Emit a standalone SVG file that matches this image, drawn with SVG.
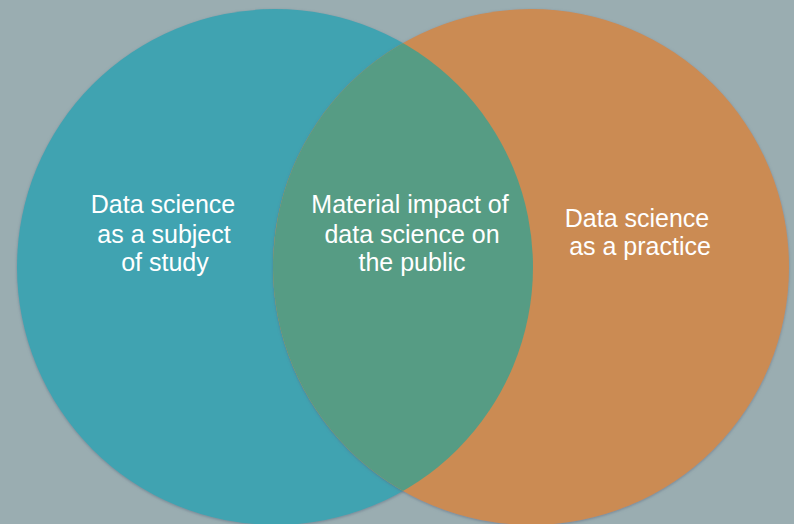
<svg xmlns="http://www.w3.org/2000/svg" width="794" height="524" viewBox="0 0 794 524">
<style>
.lbl{font-family:"Liberation Sans",Arial,sans-serif;font-size:25px;fill:#ffffff;text-anchor:middle}
</style>
<defs>
<filter id="sh" x="-10%" y="-10%" width="120%" height="120%">
<feGaussianBlur in="SourceAlpha" stdDeviation="1.5"/>
<feOffset dx="0" dy="1" result="b"/>
<feFlood flood-color="#5a6a80" flood-opacity="0.6"/>
<feComposite in2="b" operator="in"/>
<feMerge><feMergeNode/><feMergeNode in="SourceGraphic"/></feMerge>
</filter>
<clipPath id="cl"><circle cx="275" cy="267" r="258"/></clipPath>
</defs>
<rect width="794" height="524" fill="#9aadb1"/>
<g id="left">
<circle cx="275" cy="267" r="258" fill="#41a3b1" filter="url(#sh)"/>
</g>
<g id="right">
<circle cx="531" cy="267" r="258" fill="#cb8b53" filter="url(#sh)"/>
</g>
<g id="overlap">
<circle cx="531" cy="267" r="258" fill="#569c84" clip-path="url(#cl)"/>
</g>
<g id="connectors"></g>
<g id="left-text">
<text class="lbl" x="163" y="213">Data science</text>
<text class="lbl" x="164" y="243">as a subject</text>
<text class="lbl" x="165" y="271">of study</text>
</g>
<g id="mid-text">
<text class="lbl" x="410" y="213">Material impact of</text>
<text class="lbl" x="412" y="243">data science on</text>
<text class="lbl" x="412" y="271">the public</text>
</g>
<g id="right-text">
<text class="lbl" x="637" y="227">Data science</text>
<text class="lbl" x="640" y="255">as a practice</text>
</g>
</svg>
